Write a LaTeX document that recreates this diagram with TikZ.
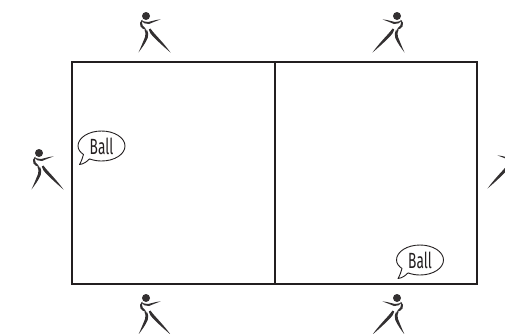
\documentclass[tikz,border=0pt]{standalone}
\usepackage{fontspec}
\setmainfont[FakeStretch=0.62]{Fira Sans}
\definecolor{ink}{HTML}{231F20}
\definecolor{figink}{HTML}{333031}
\tikzset{
  court/.style={draw=ink,line width=1.7pt,fill=none},
  balltext/.style={font=\fontsize{22}{22}\selectfont,text=ink,inner sep=0pt,anchor=center},
  bubbleline/.style={draw=ink,line width=0.9pt,fill=white,line join=round},
  pics/player/.style={code={
    \fill[figink] (0,0) circle[radius=4];
    % arm
    \fill[figink] (-5,4) .. controls (-2,5.8) and (1,6.2) .. (3,5.8) .. controls (7,4.8) and (11,3.6) .. (14.5,3.4)
       .. controls (11,4.8) and (7,6.2) .. (3,8) .. controls (0,8.6) and (-3,7) .. (-5,4) -- cycle;
    % curl
    \fill[figink] (-3.5,3.6) .. controls (-6.2,5) and (-6.8,8) .. (-5.5,10.5) .. controls (-4.5,12.4) and (-2,13.4) .. (0.5,14.2)
       .. controls (0.3,12.6) and (-2.3,11) .. (-3.3,9.5) .. controls (-4.3,8) and (-4.2,5.5) .. (-3.5,3.6) -- cycle;
    % leg 1
    \fill[figink] (-1.5,14) .. controls (-0.2,16) and (-0.2,18) .. (-1,21) .. controls (-3,26) and (-5,31) .. (-7.5,36.5)
       .. controls (-4.2,32) and (-0.4,27) .. (1.7,22) .. controls (2.7,19) and (2.2,16.5) .. (1.3,14.5) -- cycle;
    % leg 2
    \fill[figink] (2.8,13.5) .. controls (3.2,16) and (4.8,18) .. (6.8,20.2) .. controls (12,25.5) and (18,31) .. (24.5,36.5)
       .. controls (19.8,30) and (14.4,24) .. (9.6,18.8) .. controls (7.8,16.8) and (5.9,14.6) .. (4.4,12.5) -- cycle;
  }}
}
\begin{document}
\begin{tikzpicture}[x=1pt,y=-1pt]
\useasboundingbox (0,0) rectangle (505,333);
\draw[court] (72,62) rectangle (477,284);
\draw[court] (275,62) -- (275,284);
\pic at (146,16) {player};
\pic[xscale=-1] at (397,16) {player};
\pic at (39,153) {player};
\pic[xscale=-1] at (512,152) {player};
\pic at (146,298) {player};
\pic[xscale=-1] at (397,298) {player};
\begin{scope}[shift={(101.5,146)}]
\path[bubbleline] (-18,8.5) .. controls (-19,12) and (-20,15) .. (-22,18.5) .. controls (-18,18) and (-15,16) .. (-12,12.9)
 .. controls (-8,14.3) and (-4,15) .. (0,15) .. controls (13,15) and (23.5,8.3) .. (23.5,0)
 .. controls (23.5,-8.3) and (13,-15) .. (0,-15) .. controls (-13,-15) and (-23.5,-8.3) .. (-23.5,0)
 .. controls (-23.5,3.5) and (-21,6.5) .. (-18,8.5) -- cycle;
\node[balltext] (ballA) at (0,0) {Ball};
\end{scope}
\begin{scope}[shift={(420,260)}]
\path[bubbleline] (-18,8.5) .. controls (-19,12) and (-20,15) .. (-22,18.5) .. controls (-18,18) and (-15,16) .. (-12,12.9)
 .. controls (-8,14.3) and (-4,15) .. (0,15) .. controls (13,15) and (23.5,8.3) .. (23.5,0)
 .. controls (23.5,-8.3) and (13,-15) .. (0,-15) .. controls (-13,-15) and (-23.5,-8.3) .. (-23.5,0)
 .. controls (-23.5,3.5) and (-21,6.5) .. (-18,8.5) -- cycle;
\node[balltext] (ballB) at (0,0) {Ball};
\end{scope}
\end{tikzpicture}
\end{document}
